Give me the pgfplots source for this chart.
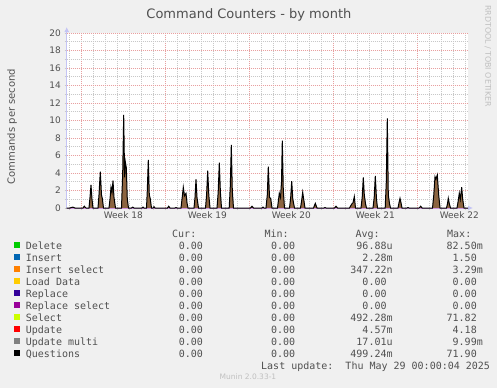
\documentclass[border=0pt]{standalone}
\usepackage{fontspec}
\setmainfont{DejaVu Sans}
\newfontfamily\monofont{DejaVu Sans Mono}
\usepackage{pgfplots}
\pgfplotsset{compat=1.18}
\usepackage{pgfplotstable}
\usetikzlibrary{arrows.meta}

\definecolor{bg}{HTML}{F0F0F0}
\definecolor{txt}{HTML}{505050}
\definecolor{faint}{HTML}{C0C0C0}
\definecolor{mgrid}{HTML}{E8A0A0}
\definecolor{ngrid}{HTML}{C8C8C8}
\definecolor{axcol}{HTML}{C4C4F4}
\definecolor{cDelete}{HTML}{00CC00}
\definecolor{cInsert}{HTML}{0066B3}
\definecolor{cInsSel}{HTML}{FF8000}
\definecolor{cLoad}{HTML}{FFCC00}
\definecolor{cReplace}{HTML}{330099}
\definecolor{cRepSel}{HTML}{990099}
\definecolor{cSelect}{HTML}{CCFF00}
\definecolor{cUpdate}{HTML}{FF0000}
\definecolor{cUpdMulti}{HTML}{808080}
\definecolor{cQuestions}{HTML}{000000}
\definecolor{spike}{HTML}{8C6440}
\definecolor{zeroline}{HTML}{D098E0}

% x: time position (2 h per unit), week 18 starts at 81.3; y: commands per second
\pgfplotstableread{
x q
66.7 0
70 0
72.7 0.1
75 0
83 0
84.3 0.2
86 0
89 0
90 1.2
91 2.63
92 1.0
93 0
98 0
99 1.5
100.3 4.15
101.5 1.5
102.3 1.1
103.5 0
109 0
110 1.0
111 2.36
112 1.8
113 3.12
114 1.2
115.5 0
121.5 0
122.7 4.0
123.7 10.63
124.6 3.5
125.3 5.3
126.3 4.6
127.3 1.0
128.5 0
131.5 0
132.7 0.1
134 0
142 0
143 0.1
144 0
146.5 0
147.3 2.0
148.3 5.49
149.3 1.5
150.2 1.1
151.5 0
153 0
154 0.15
155 0
167.5 0
168.7 0.2
170 0
175 0
176 0.05
177 0
181 0
182.3 1.3
183.3 2.36
184.5 1.4
186 1.68
187 0.6
188 0
194 0
195 1.2
196 3.28
197 1.2
198.5 0
205.5 0
206.6 1.5
207.7 4.27
208.8 1.5
210 0
217 0
218.2 1.8
219.3 5.18
220.4 1.8
221.5 0
229.2 0
230.3 2.5
231.3 7.2
232.3 2.0
233.5 0
250.5 0
252 0.2
253.5 0
262 0
263 0.1
264 0
266 0
267.3 1.5
268.3 4.72
269.5 1.2
270.7 1.1
272 0
277.5 0
279.3 1.68
280.5 1.2
281.5 3.0
282.3 7.7
283.3 2.0
284.5 0
289.5 0
290.7 1.2
291.7 3.08
292.8 1.0
293.5 0.6
294.5 0
300.5 0
301.6 0.8
302.7 1.79
303.7 1.0
305 0
313.5 0
315.3 0.53
317 0
324 0
325 0.05
326 0
334.5 0
336 0.2
337.5 0
349.5 0
351.7 0.45
353 0.6
354.3 1.3
355.5 0
361 0
362.2 1.2
363.3 3.5
364.3 1.5
365.5 0.5
366.5 0
373 0
374.2 1.2
375.3 3.66
376.5 1.0
377.5 0
385.2 0
386.3 3.0
387.3 10.25
388.3 1.5
389.5 0.5
390.5 0
398 0
399 0.6
400 1.1
401 0.6
402 0
407 0
408 0.05
409 0
419 0
420.7 0.2
422 0
432.5 0
433.8 1.5
435 3.58
436 3.3
437.3 3.77
438.7 1.5
440 0
446.5 0
447.5 0.5
448.3 1.1
449.3 0.5
450.5 0
457 0
458.2 0.8
459.3 1.68
460.3 1.0
461.7 2.37
462.7 1.0
464 0
468 0
}\qdata

\newcommand\z{0.00\phantom{0}}
\newcommand\row[5]{\rlap{#1}\makebox[183bp][r]{#2}\makebox[92.3bp][r]{#3}\makebox[91.4bp][r]{#4}\makebox[90.2bp][r]{#5}}

\begin{document}
\begin{tikzpicture}
\fill[bg] (0,0) rectangle (497bp,-388bp);
\begin{axis}[
  at={(66.7bp,-208bp)}, anchor=south west,
  scale only axis, width=401.3bp, height=175bp,
  xmin=66.7, xmax=468, ymin=0, ymax=20,
  axis background/.style={fill=white},
  axis lines=left,
  axis line style={draw=axcol, line width=1bp},
  x axis line style={-{Latex[length=5bp,width=5bp]}, shorten >=-5bp},
  y axis line style={-{Latex[length=5bp,width=5bp]}, shorten >=-6bp},
  xtick={81.3,165.3,249.3,333.3,417.3},
  xticklabels={},
  minor xtick={69.3,81.3,...,466},
  ytick={0,2,...,20},
  minor ytick={1,3,...,19},
  grid=both,
  major grid style={draw=mgrid, line width=0.7bp, dash pattern=on 1bp off 1bp},
  minor grid style={draw=ngrid, line width=0.7bp, dash pattern=on 1bp off 1bp},
  tick align=outside,
  major tick length=2bp, minor tick length=2bp,
  tick style={draw=ngrid, line width=0.7bp},
  /pgf/number format/assume math mode=true,
  yticklabel style={font=\fontsize{9bp}{10bp}\selectfont, text=txt, inner sep=0pt, xshift=-3.7bp},
  extra x ticks={123.3,207.3,291.3,375.3,459.3},
  extra x tick labels={Week 18,Week 19,Week 20,Week 21,Week 22},
  extra x tick style={grid=none, major tick length=0pt,
    xticklabel style={font=\fontsize{9bp}{10bp}\selectfont, text=txt, inner sep=0pt, yshift=-3.3bp}},
  ylabel={Commands per second},
  ylabel style={at={(axis description cs:-0.12883,0.4657)}, anchor=base, rotate=0,
    font=\fontsize{10bp}{11bp}\selectfont, text=txt},
  legend image code/.code={\fill[#1, draw=none] (0bp,1.2bp) rectangle (6bp,7bp); \path (11.7bp,0bp);},
  legend style={at={(axis description cs:-0.13132,-0.19029)}, anchor=north west,
    draw=none, fill=none, inner sep=0pt, outer sep=0pt, row sep=0pt, column sep=0pt,
    font=\monofont\fontsize{10bp}{12bp}\selectfont, text=txt,
    nodes={inner sep=0pt, outer sep=0pt, text height=8bp, text depth=4bp},
    cells={anchor=base west}},
]
\addplot[draw=none, fill=spike, forget plot] table[x=x, y=q] {\qdata} \closedcycle;
\addplot[color=zeroline, line width=1bp, forget plot] coordinates {(66.7,0) (468,0)};
\addplot[color=cQuestions, line width=1bp, forget plot] table[x=x, y=q] {\qdata};

\addlegendimage{fill=cDelete}
\addlegendentry{\row{Delete}{\z}{\z}{96.88u}{82.50m}}
\addlegendimage{fill=cInsert}
\addlegendentry{\row{Insert}{\z}{\z}{2.28m}{1.50\phantom{0}}}
\addlegendimage{fill=cInsSel}
\addlegendentry{\row{Insert select}{\z}{\z}{347.22n}{3.29m}}
\addlegendimage{fill=cLoad}
\addlegendentry{\row{Load Data}{\z}{\z}{\z}{\z}}
\addlegendimage{fill=cReplace}
\addlegendentry{\row{Replace}{\z}{\z}{\z}{\z}}
\addlegendimage{fill=cRepSel}
\addlegendentry{\row{Replace select}{\z}{\z}{\z}{\z}}
\addlegendimage{fill=cSelect}
\addlegendentry{\row{Select}{\z}{\z}{492.28m}{71.82\phantom{0}}}
\addlegendimage{fill=cUpdate}
\addlegendentry{\row{Update}{\z}{\z}{4.57m}{4.18\phantom{0}}}
\addlegendimage{fill=cUpdMulti}
\addlegendentry{\row{Update multi}{\z}{\z}{17.01u}{9.99m}}
\addlegendimage{fill=cQuestions}
\addlegendentry{\row{Questions}{\z}{\z}{499.24m}{71.90\phantom{0}}}
\end{axis}

\node[anchor=base, inner sep=0pt, text=txt, font=\fontsize{13bp}{14bp}\selectfont] at (248.9bp,-18.3bp) {Command Counters - by month};
\node[anchor=center, rotate=-90, inner sep=0pt, text=faint, font=\fontsize{7.9bp}{9bp}\selectfont] at (488bp,-56bp) {RRDTOOL / TOBI OETIKER};
\begin{scope}[every node/.style={anchor=base west, inner sep=0pt, text=txt, font=\monofont\fontsize{10bp}{12bp}\selectfont}]
\node at (172bp,-237.3bp) {Cur:};
\node at (264.3bp,-237.3bp) {Min:};
\node at (355.3bp,-237.3bp) {Avg:};
\node at (447bp,-237.3bp) {Max:};
\node at (261bp,-369.3bp) {Last update:~~Thu May 29 00:00:04 2025};
\end{scope}
\node[anchor=base, inner sep=0pt, text=faint, font=\fontsize{7.5bp}{9bp}\selectfont] at (248bp,-379.3bp) {Munin 2.0.33-1};
\pgfresetboundingbox
\path[use as bounding box] (0,0) rectangle (497bp,-388bp);
\end{tikzpicture}
\end{document}
